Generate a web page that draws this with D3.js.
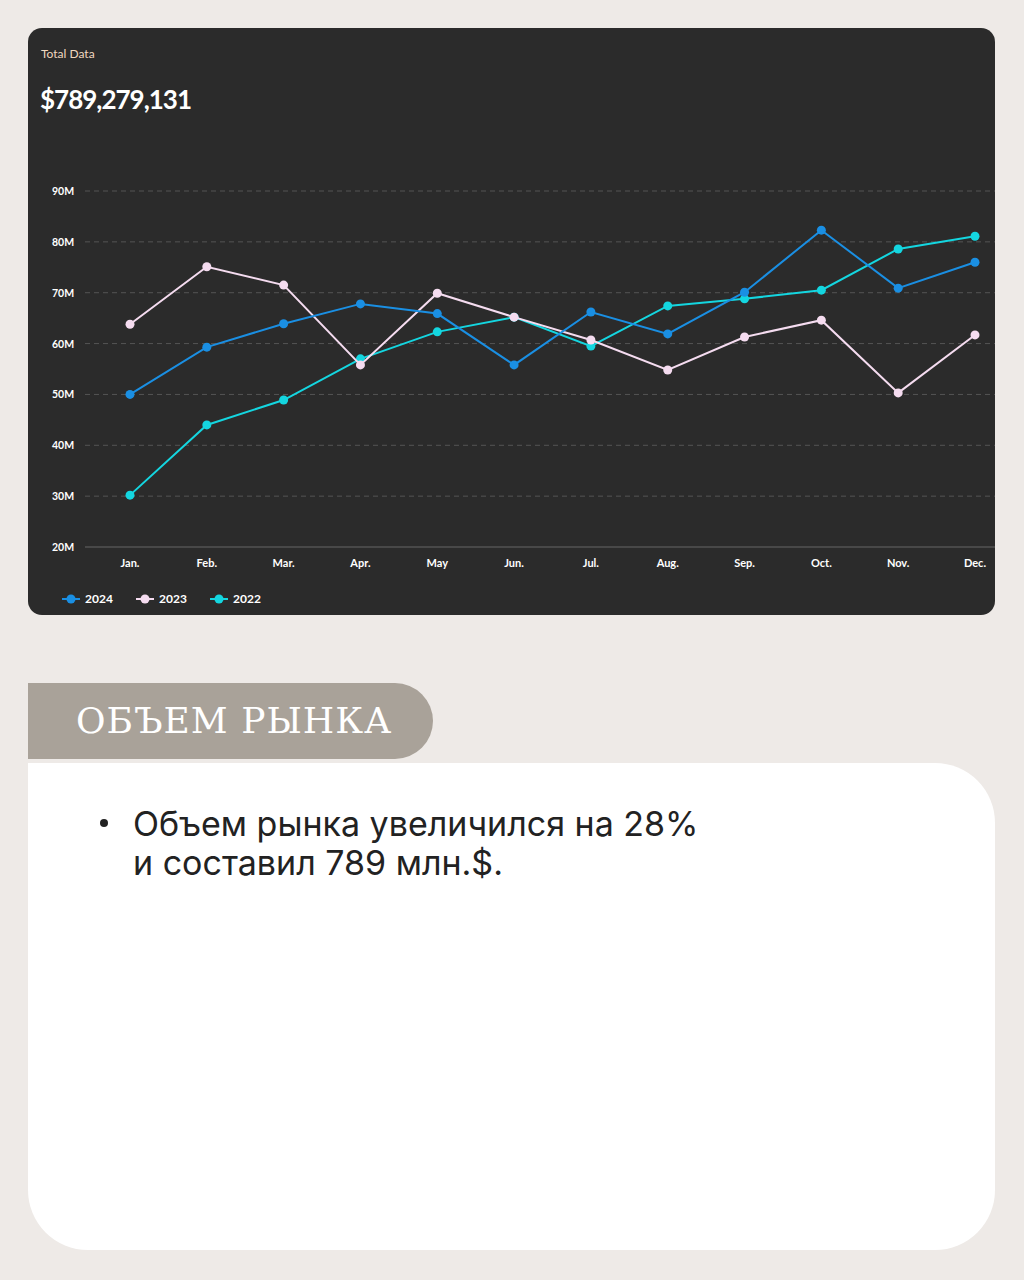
<!DOCTYPE html>
<html><head><meta charset="utf-8">
<script src="https://cdn.jsdelivr.net/npm/d3@7"></script>
<style>
body{margin:0;background:#eeeae7;}
svg{display:block;}
</style></head>
<body><svg id="c" width="1024" height="1280"></svg>
<script>
const months = ['Jan.','Feb.','Mar.','Apr.','May','Jun.','Jul.','Aug.','Sep.','Oct.','Nov.','Dec.'];
const v2024 = [50.0,59.3,63.9,67.8,65.9,55.8,66.2,61.9,70.1,82.3,70.9,76.0];
const v2023 = [63.8,75.1,71.5,55.8,69.9,65.2,60.7,54.8,61.3,64.6,50.3,61.7];
const v2022 = [30.2,44.0,48.9,57.0,62.3,65.2,59.5,67.4,68.8,70.5,78.6,81.1];
const yTicks = [20,30,40,50,60,70,80,90];
const series = [
  {name:'2024', values:v2024, color:'#1a8fe3'},
  {name:'2023', values:v2023, color:'#f5dcf0'},
  {name:'2022', values:v2022, color:'#14d6e0'}
];

const svg = d3.select('#c');
const font = 'Lato, "Noto Sans", sans-serif';

// dark card
svg.append('rect').attr('x',28).attr('y',28).attr('width',967).attr('height',587)
  .attr('rx',14).attr('fill','#2b2b2b');
svg.append('text').attr('x',41).attr('y',58).attr('fill','#f0d8c0')
  .attr('font-family',font).attr('font-size',12).text('Total Data');
svg.append('text').attr('x',40).attr('y',109).attr('fill','#fff')
  .attr('font-family',font).attr('font-weight',700).attr('font-size',26)
  .attr('letter-spacing',-1).text('$789,279,131');

const x = d3.scalePoint().domain(months).range([130,975]);
const y = d3.scaleLinear().domain([20,90]).range([547,191]);

const g = svg.append('g');
g.selectAll('line.grid').data(yTicks).join('line')
  .attr('x1',85).attr('x2',995).attr('y1',d=>y(d)).attr('y2',d=>y(d))
  .attr('stroke',d=>d===20?'#666':'#555').attr('stroke-dasharray',d=>d===20?null:'5,4');
g.selectAll('text.yl').data(yTicks).join('text')
  .attr('x',52).attr('y',d=>y(d)+4).attr('fill','#fff').attr('font-family',font)
  .attr('font-weight',700).attr('font-size',10.5).text(d=>d+'M');
g.selectAll('text.xl').data(months).join('text')
  .attr('x',d=>x(d)).attr('y',567).attr('text-anchor','middle').attr('fill','#fff')
  .attr('font-family',font).attr('font-weight',700).attr('font-size',11).text(d=>d);

const line = d3.line().x((d,i)=>x(months[i])).y(d=>y(d));
series.slice().reverse().forEach(s=>{
  g.append('path').attr('d',line(s.values)).attr('fill','none')
    .attr('stroke',s.color).attr('stroke-width',2);
  g.selectAll(null).data(s.values).join('circle')
    .attr('cx',(d,i)=>x(months[i])).attr('cy',d=>y(d)).attr('r',4.5).attr('fill',s.color);
});

// legend
const lg = svg.append('g').selectAll('g').data(series).join('g')
  .attr('transform',(d,i)=>`translate(${62+i*74},599)`);
lg.append('line').attr('x1',0).attr('x2',18).attr('stroke',d=>d.color).attr('stroke-width',2);
lg.append('circle').attr('cx',9).attr('r',4.5).attr('fill',d=>d.color);
lg.append('text').attr('x',23).attr('y',4).attr('fill','#fff').attr('font-family',font)
  .attr('font-weight',700).attr('font-size',12).text(d=>d.name);

// white card
svg.append('path').attr('fill','#fff')
  .attr('d','M28,763 H935 A60,60 0 0 1 995,823 V1190 A60,60 0 0 1 935,1250 H88 A60,60 0 0 1 28,1190 Z');
// pill
svg.append('path').attr('fill','#a9a299')
  .attr('d','M28,683 H395 A38,38 0 0 1 433,721 A38,38 0 0 1 395,759 H28 Z');
svg.append('text').attr('x',76).attr('y',733).attr('fill','#fff')
  .attr('font-family','"DejaVu Serif", "Liberation Serif", serif').attr('font-size',36)
  .attr('letter-spacing',1).text('ОБЪЕМ РЫНКА');

const tf = 'Inter, "Noto Sans", sans-serif';
svg.append('circle').attr('cx',104).attr('cy',823).attr('r',4).attr('fill','#222');
svg.append('text').attr('x',133).attr('y',836).attr('fill','#222').attr('font-family',tf)
  .attr('font-size',34).text('Объем рынка увеличился на 28%');
svg.append('text').attr('x',133).attr('y',875).attr('fill','#222').attr('font-family',tf)
  .attr('font-size',34).text('и составил 789 млн.$.');
</script></body></html>
